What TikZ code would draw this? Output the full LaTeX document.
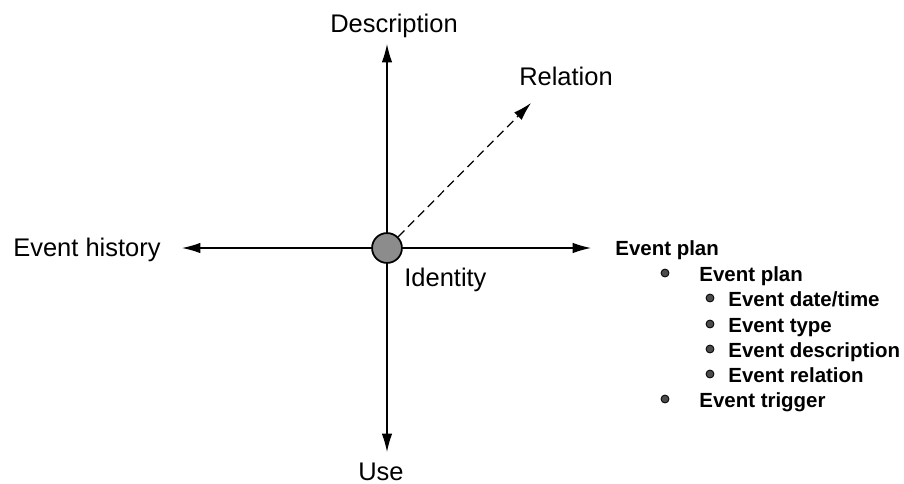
\documentclass[tikz,border=0pt]{standalone}
\usepackage{fontspec}
\setmainfont{Liberation Sans}
\usetikzlibrary{arrows.meta}

\begin{document}
\begin{tikzpicture}[x=0.02cm,y=-0.02cm]
		\tikzset{> = {Latex[length=10.5pt,width=6pt]}}
		\tikzset{lbl/.style = {font=\fontsize{14.5}{17}\selectfont, inner sep=0pt},
			item/.style = {font=\bfseries\fontsize{11.65}{14}\selectfont, anchor=base west, inner sep=0pt},
			dot/.style = {circle, draw, fill=black!70, line width=0.5pt, inner sep=0pt, minimum size=4.5pt},
			axis/.style = {->, line width=0.7pt}}
		\useasboundingbox (0,0) rectangle (904,484);
		\coordinate (O) at (387,248);
		\coordinate (N) at (387,44);
		\coordinate (S) at (387,452);
		\coordinate (W) at (182,248);
		\coordinate (E) at (591,248);
		\coordinate (NE) at (531,103);
		\draw[axis] (O) -- (N);
		\draw[axis] (O) -- (S);
		\draw[axis] (O) -- (W);
		\draw[axis] (O) -- (E);
		\node[circle, draw, line width=1pt, fill=black!45, minimum size=17pt, inner sep=0pt] (id) at (O){};
		\draw[axis, dash pattern=on 5pt off 3pt] (id) -- (NE);
		% axis labels
		\node[lbl, anchor=base] (desc) at (394,32){Description};
		\node[lbl, anchor=base] (use) at (381,480){Use};
		\node[lbl, anchor=base] (rel) at (566,85){Relation};
		\node[lbl, anchor=base west] (hist) at (13,256){Event history};
		\node[lbl, anchor=base west] (ident) at (404,286){Identity};
		% event plan list
		\node[item] (plan) at (615,255){Event plan};
		\node[dot] (b1) at (665,273){};
		\node[item] (sub) at (699,281){Event plan};
		\node[dot] (b2) at (710,298){};
		\node[item] (date) at (728,306.5){Event date/time};
		\node[dot] (b3) at (710,324){};
		\node[item] (type) at (728,332){Event type};
		\node[dot] (b4) at (710,349){};
		\node[item] (descr) at (728,357){Event description};
		\node[dot] (b5) at (710,374){};
		\node[item] (relat) at (728,382){Event relation};
		\node[dot] (b6) at (665,399){};
		\node[item] (trig) at (699,407){Event trigger};
	\end{tikzpicture}
\end{document}
